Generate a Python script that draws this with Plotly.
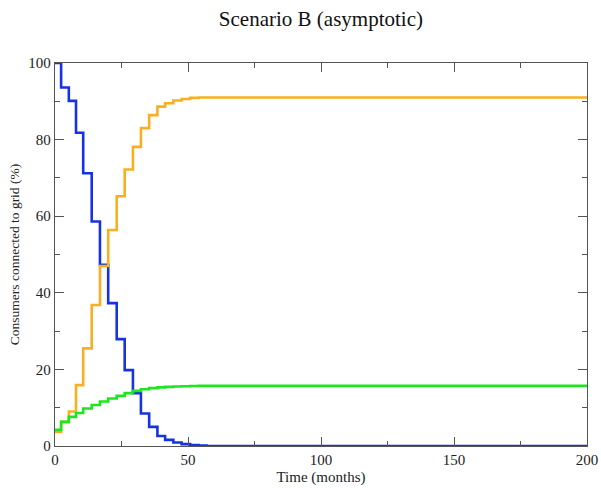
import plotly.graph_objects as go

# Step start times (months)
times = [0, 2.3, 5.2, 7.9, 10.6, 13.8, 16.9, 20.0, 23.2, 26.2, 29.3, 32.3,
         35.4, 38.5, 41.4, 44.5, 47.6, 50.8, 54.0, 57.0, 200]

# Series values (% of consumers)
blue_vals = [100, 93.6, 90.1, 81.8, 71.2, 58.6, 47.3, 37.3, 27.9, 19.8, 13.8,
             8.5, 5.0, 2.6, 1.6, 0.9, 0.5, 0.25, 0.1, 0.0, 0.0]
orange_vals = [3.7, 6.3, 9.0, 15.9, 25.5, 36.8, 47.0, 56.4, 65.2, 72.2, 78.1,
               83.0, 86.4, 88.6, 89.5, 90.2, 90.6, 90.9, 91.0, 91.0, 91.0]
green_vals = [4.2, 6.3, 7.6, 8.6, 9.8, 10.7, 11.6, 12.4, 13.1, 13.8, 14.4,
              14.8, 15.1, 15.3, 15.45, 15.55, 15.6, 15.65, 15.7, 15.7, 15.7]

x_ticks = [0, 50, 100, 150, 200]
y_ticks = [0, 20, 40, 60, 80, 100]

serif = "Liberation Serif, Times New Roman, serif"

fig = go.Figure()
for vals, col in [(blue_vals, "#1733e0"), (orange_vals, "#f8b022"), (green_vals, "#1ee61e")]:
    fig.add_trace(go.Scatter(x=times, y=vals, mode="lines", line_shape="hv",
                             line=dict(color=col, width=2.6), showlegend=False,
                             hoverinfo="skip"))

axis_common = dict(showline=True, linecolor="#555555", linewidth=1.3, mirror="ticks",
                   ticks="inside", ticklen=9, tickwidth=1.2, tickcolor="#555555",
                   showgrid=False, zeroline=False, automargin=False,
                   ticklabeloverflow="allow",
                   tickfont=dict(family=serif, size=15, color="#222222"))

fig.update_xaxes(range=[0, 200], tickvals=x_ticks,
                 minor=dict(dtick=25, ticks="inside", ticklen=5, tickcolor="#555555", tickwidth=1.2),
                 title=dict(text="Time (months)", font=dict(family=serif, size=15, color="#222222"),
                            standoff=4),
                 **axis_common)
fig.update_yaxes(range=[0, 100], tickvals=y_ticks,
                 minor=dict(dtick=10, ticks="inside", ticklen=5, tickcolor="#555555", tickwidth=1.2),
                 title=dict(text="Consumers connected to grid (%)",
                            font=dict(family=serif, size=13.5, color="#222222"), standoff=5),
                 **axis_common)

fig.update_layout(
    width=601, height=488,
    margin=dict(l=55, r=14, t=63, b=42),
    paper_bgcolor="white", plot_bgcolor="white",
    hovermode=False,
    title=dict(text="Scenario B (asymptotic)", x=0.534, xanchor="center", y=1 - 19 / 488,
               yanchor="middle",
               font=dict(family=serif, size=21, color="#111111")),
)

# Remove the default page margin so the 601x488 figure fills the window exactly.
fig.write_html("out.html", config={"displayModeBar": False},
               post_script="document.body.style.margin='0';document.body.style.overflow='hidden';")
